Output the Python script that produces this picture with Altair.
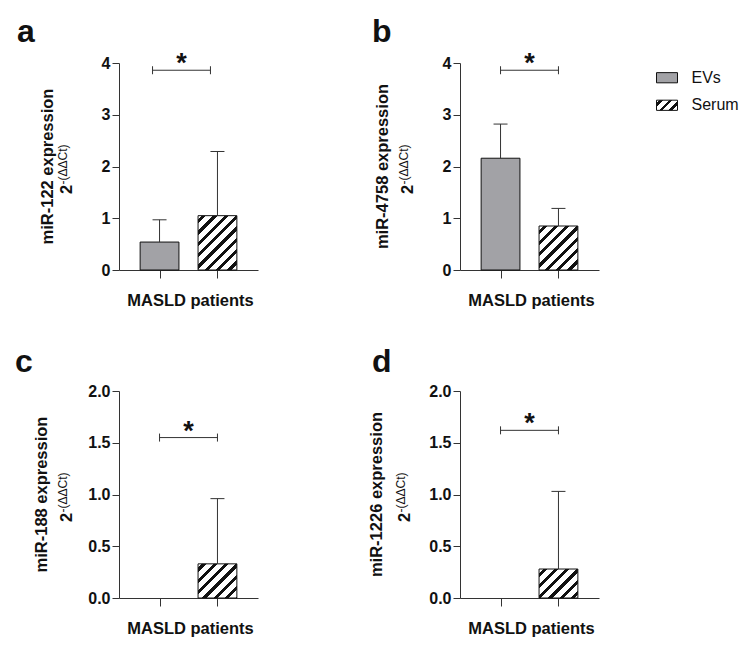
import math
import altair as alt
import pandas as pd

# ---------------- data ----------------
groups = ["EVs", "Serum"]
panel_letters = ["a", "b", "c", "d"]
mirna_names = ["miR-122", "miR-4758", "miR-188", "miR-1226"]
ev_mean = [0.54, 2.16, 0.0, 0.0]
ev_sd = [0.43, 0.66, 0.0, 0.0]
serum_mean = [1.05, 0.85, 0.33, 0.28]
serum_sd = [1.24, 0.34, 0.63, 0.75]
y_max = [4, 4, 2, 2]
y_ticks = [[0, 1, 2, 3, 4], [0, 1, 2, 3, 4], [0, 0.5, 1, 1.5, 2], [0, 0.5, 1, 1.5, 2]]
y_format = ["d", "d", ".1f", ".1f"]
sig_level = [3.86, 3.86, 1.55, 1.62]
sig_label = ["*", "*", "*", "*"]
x_title = "MASLD patients"
y_title_suffix = " expression"
y_sub_base = "2"
y_sub_sup = "-(ΔΔCt)"
legend_labels = ["EVs", "Serum"]

# ---------------- style ----------------
FONT = "Liberation Sans"
W, H = 139, 207
X_DOMAIN = [0, 2.4]
CENTER0 = 0.7
HALF_BAR = 0.335
EV_GRAY = "#a2a2a6"
INK = "#111111"
LINE = "#333333"

title_dx = [-66.5, -72.5, -72, -78]
line2_dx = [-47, -47.5, -47, -50]
letter_dx = [-102, -88, -104, -88]
letter_dy = [-21, -21, -19, -19]
bracket_shift = [-7, 0, 0, 0]
LEG_X = 196.5      # legend offset (px) from panel b plot origin
LEG_TEXT_X = 231.5


def stripes(w, h, period=8.0, frac=0.38, phase=0.35):
    """Diagonal '/' hatch as a hard-stop linear gradient (SVG bbox units)."""
    L = w + h
    a = L * w / (w * w + h * h)
    p = period * math.sqrt(2) / L
    stops = [(0.0, "#ffffff")]
    t = phase * p
    while t < 1:
        t1 = min(t + frac * p, 1.0)
        stops += [(t, "#ffffff"), (t, INK), (t1, INK), (t1, "#ffffff")]
        t += p
    stops.append((1.0, "#ffffff"))
    return alt.LinearGradient(
        gradient="linear",
        stops=[alt.GradientStop(offset=round(o, 5), color=c) for o, c in stops],
        x1=0, y1=0, x2=a, y2=a * h / w,
    )


px_per_unit = W / (X_DOMAIN[1] - X_DOMAIN[0])
BAR_W = 2 * HALF_BAR * px_per_unit


def legend_layer():
    legdf = pd.DataFrame({"label": legend_labels})
    lscale = alt.Scale(domain=legend_labels, range=[0, 57],
                       paddingInner=0.63, paddingOuter=0.35)
    LY = alt.Y("label:N", scale=lscale, axis=None)
    lbase = alt.Chart(legdf)
    leg_ev = lbase.transform_filter("datum.label == 'EVs'").mark_bar(
        fill=EV_GRAY, stroke=INK, strokeWidth=1
    ).encode(y=LY, x=alt.value(LEG_X), x2=alt.value(LEG_X + 21))
    leg_se = lbase.transform_filter("datum.label == 'Serum'").mark_bar(
        fill=stripes(21, 10.2, period=6.5, frac=0.42), stroke=INK, strokeWidth=1
    ).encode(y=LY, x=alt.value(LEG_X), x2=alt.value(LEG_X + 21))
    leg_tx = lbase.mark_text(
        font=FONT, fontSize=16, color=INK, align="left", baseline="middle"
    ).encode(y=LY, x=alt.value(LEG_TEXT_X), text="label:N")
    return alt.layer(leg_ev, leg_se, leg_tx)


def panel(i):
    df = pd.DataFrame({
        "group": groups,
        "idx": [0, 1],
        "mean": [ev_mean[i], serum_mean[i]],
        "sd": [ev_sd[i], serum_sd[i]],
        "sig": [sig_level[i]] * 2,
    })
    xscale = alt.Scale(domain=X_DOMAIN, nice=False, zero=False)
    yscale = alt.Scale(domain=[0, y_max[i]], nice=False, zero=True)
    xaxis = alt.Axis(
        values=[CENTER0, CENTER0 + 1], labels=False, tickSize=8, tickColor=LINE,
        domainColor=LINE, grid=False, title=x_title, titleFont=FONT,
        titleFontSize=16.5, titleFontWeight="bold", titleColor=INK,
        titleX=W / 2 + 1.5, titleY=35, titleBaseline="alphabetic", titleAlign="center",
    )
    yaxis = alt.Axis(
        values=y_ticks[i], format=y_format[i], labelFont=FONT, labelFontSize=16,
        labelFontWeight="bold", labelColor=INK, tickSize=7, labelPadding=2,
        tickColor=LINE, domainColor=LINE, grid=False, title=None,
        labelFlush=False, labelOverlap=False,
    )
    X = lambda f: alt.X(f, type="quantitative", scale=xscale, axis=xaxis)
    Y = lambda f: alt.Y(f, type="quantitative", scale=yscale, axis=yaxis)

    base = alt.Chart(df).transform_calculate(
        pos=f"datum.idx + {CENTER0}",
        lo=f"datum.idx + {CENTER0 - HALF_BAR}",
        hi=f"datum.idx + {CENTER0 + HALF_BAR}",
        top="datum.mean + datum.sd",
        base0="0",
    )

    ev_bar = base.transform_filter("datum.idx == 0 && datum.mean > 0").mark_bar(
        fill=EV_GRAY, stroke=INK, strokeWidth=1
    ).encode(x=X("lo"), x2="hi:Q", y=Y("mean"), y2="base0:Q")

    h_px = serum_mean[i] / y_max[i] * H
    serum_bar = base.transform_filter("datum.idx == 1").mark_bar(
        fill=stripes(BAR_W, h_px), stroke=INK, strokeWidth=1
    ).encode(x=X("lo"), x2="hi:Q", y=Y("mean"), y2="base0:Q")

    err = base.transform_filter("datum.sd > 0")
    err_rule = err.mark_rule(color=LINE, strokeWidth=1).encode(
        x=X("pos"), y=Y("mean"), y2="top:Q")
    err_cap = err.mark_point(
        shape="M-1,0L1,0", size=196, filled=False, stroke=LINE, strokeWidth=1, opacity=1
    ).encode(x=X("pos"), y=Y("top"))

    sh = bracket_shift[i]
    agg = base.transform_aggregate(
        lo="min(pos)", hi="max(pos)", mid="mean(pos)", sig="max(sig)")
    bracket = agg.mark_rule(color=LINE, strokeWidth=1, xOffset=sh, x2Offset=sh).encode(
        x=X("lo"), x2="hi:Q", y=Y("sig"))
    bcaps = base.mark_point(
        shape="M0,-1L0,1", size=64, filled=False, stroke=LINE, strokeWidth=1,
        opacity=1, xOffset=sh,
    ).encode(x=X("pos"), y=Y("sig"))
    star = agg.mark_text(
        text=sig_label[i], font=FONT, fontSize=27, fontWeight="bold", color=INK,
        align="center", baseline="alphabetic", dy=2, xOffset=sh,
    ).encode(x=X("mid"), y=Y("sig"))

    one = alt.Chart(pd.DataFrame({"k": [0]}))
    t1 = one.mark_text(
        text=mirna_names[i] + y_title_suffix, font=FONT, fontSize=16.5,
        fontWeight="bold", color=INK, angle=270, align="center", baseline="alphabetic",
    ).encode(x=alt.value(title_dx[i]), y=alt.value(H / 2))
    y2 = H / 2 + 27.5
    t2 = one.mark_text(
        text=y_sub_base, font=FONT, fontSize=16.5, fontWeight="bold", color=INK,
        angle=270, align="left", baseline="alphabetic",
    ).encode(x=alt.value(line2_dx[i]), y=alt.value(y2))
    t3 = one.mark_text(
        text=y_sub_sup, font=FONT, fontSize=12, color=INK,
        angle=270, align="left", baseline="alphabetic",
    ).encode(x=alt.value(line2_dx[i] - 5), y=alt.value(y2 - 9.5))
    letter = one.mark_text(
        text=panel_letters[i], font=FONT, fontSize=32, fontWeight="bold", color=INK,
        align="left", baseline="alphabetic",
    ).encode(x=alt.value(letter_dx[i]), y=alt.value(letter_dy[i]))

    body = alt.layer(
        ev_bar, serum_bar, err_rule, err_cap, bracket, bcaps, star, t1, t2, t3, letter
    )
    if i == 1:
        return alt.layer(body, legend_layer()).resolve_scale(y="independent").properties(
            width=W, height=H)
    return body.properties(width=W, height=H)


chart = alt.concat(
    panel(0), panel(1), panel(2), panel(3),
    columns=2, spacing={"row": 121, "column": 202}, bounds="flush",
).properties(
    padding={"left": 15, "top": 16, "right": 5, "bottom": 5},
    background="white",
).configure(font=FONT).configure_view(stroke=None)

chart.save("out.html", embed_options={"renderer": "svg", "actions": False})
